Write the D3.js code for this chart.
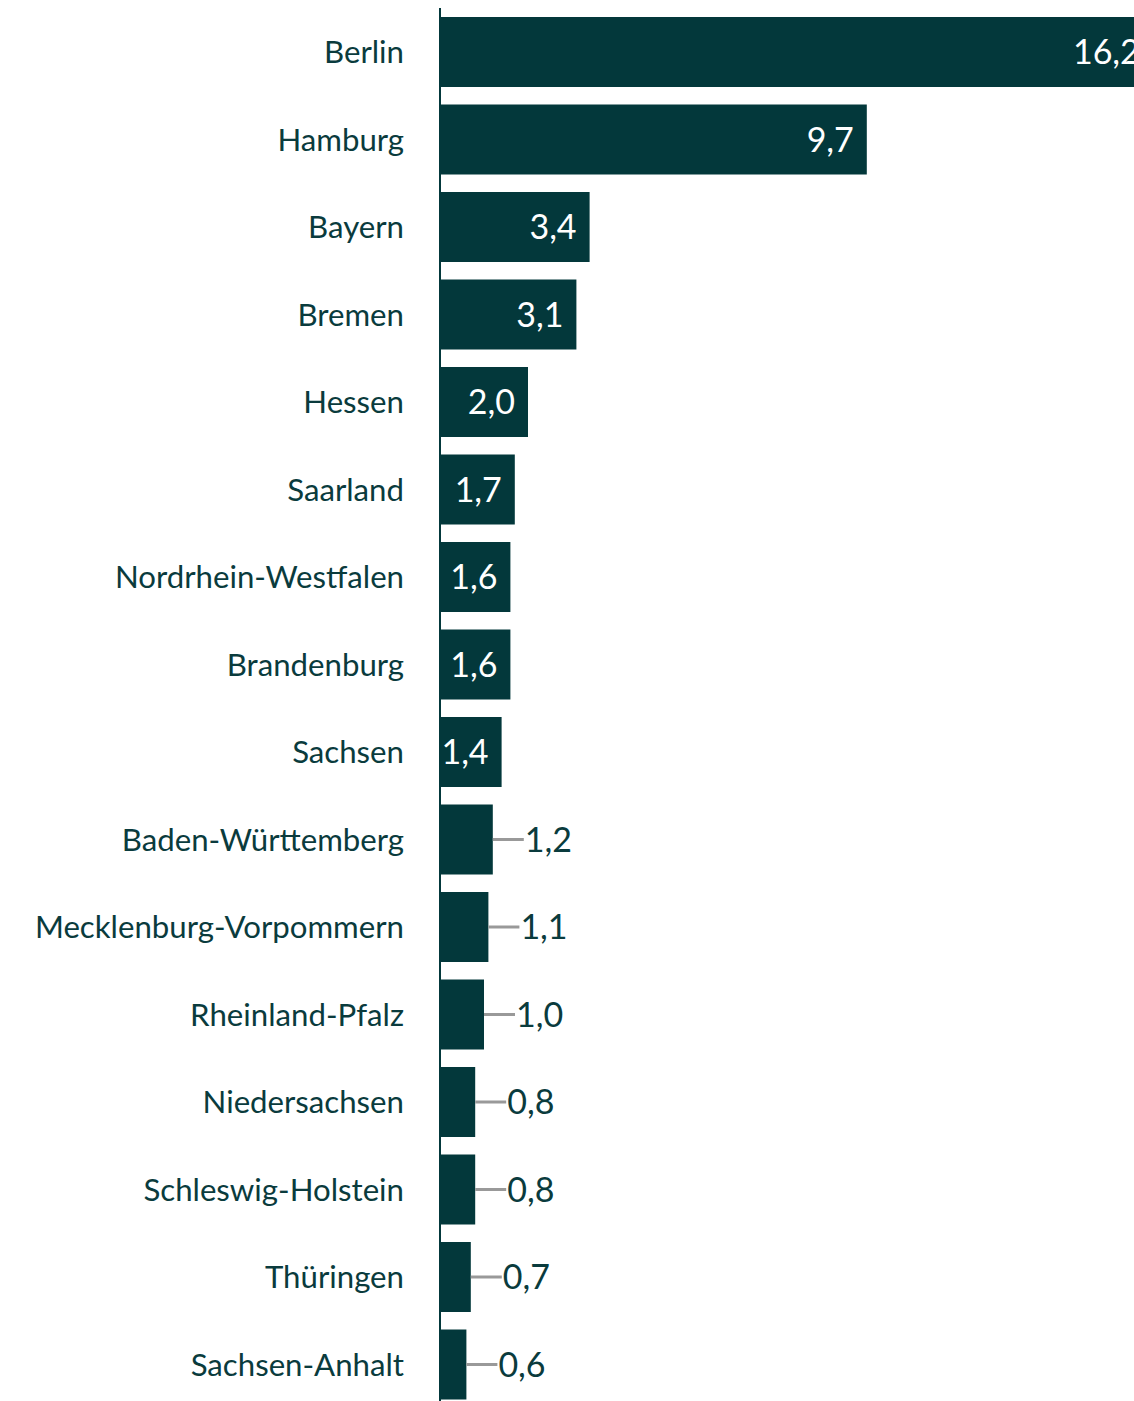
<!DOCTYPE html>
<html><head><meta charset="utf-8">
<script src="https://cdn.jsdelivr.net/npm/d3@7"></script>
<style>html,body{margin:0;padding:0;background:#fff;overflow:hidden}svg{display:block}</style>
</head><body>
<svg id="chart" width="1134" height="1401"></svg>
<script>
const categories = ["Berlin","Hamburg","Bayern","Bremen","Hessen","Saarland","Nordrhein-Westfalen","Brandenburg","Sachsen","Baden-Württemberg","Mecklenburg-Vorpommern","Rheinland-Pfalz","Niedersachsen","Schleswig-Holstein","Thüringen","Sachsen-Anhalt"];
const values = [16.2,9.7,3.4,3.1,2.0,1.7,1.6,1.6,1.4,1.2,1.1,1.0,0.8,0.8,0.7,0.6];
const labels = ["16,2","9,7","3,4","3,1","2,0","1,7","1,6","1,6","1,4","1,2","1,1","1,0","0,8","0,8","0,7","0,6"];

const data = categories.map((c,i)=>({cat:c, v:values[i], lab:labels[i]}));
const svg = d3.select("#chart");
const dark = "#03383b";
const font = "Lato, 'Open Sans', sans-serif";

const x = d3.scaleLinear().domain([0,16.2]).range([440, 440+16.2*44]);
const y = d3.scaleBand().domain(categories).range([8.25, 1408.25]).paddingInner(0.2).paddingOuter(0.1);

svg.selectAll("rect.bar").data(data).join("rect")
  .attr("class","bar")
  .attr("x", x(0)).attr("y", d=>y(d.cat))
  .attr("width", d=>x(d.v)-x(0)).attr("height", y.bandwidth())
  .attr("fill", dark);

svg.append("line").attr("x1",440).attr("x2",440).attr("y1",8).attr("y2",1401)
  .attr("stroke", dark).attr("stroke-width",2);

svg.selectAll("text.cat").data(data).join("text")
  .attr("class","cat")
  .attr("x", 404).attr("y", d=>y(d.cat)+y.bandwidth()/2)
  .attr("dy","0.36em").attr("text-anchor","end")
  .attr("font-family", font).attr("font-size", 31.2).attr("fill", "#0a3b3d")
  .text(d=>d.cat);

const inside = d=>d.v>=1.4;
svg.selectAll("text.val").data(data).join("text")
  .attr("class","val")
  .attr("x", d=> inside(d) ? x(d.v)-13 : x(d.v)+32)
  .attr("y", d=>y(d.cat)+y.bandwidth()/2)
  .attr("dy","0.36em")
  .attr("text-anchor", d=> inside(d) ? "end" : "start")
  .attr("font-family", font).attr("font-size", 34)
  .attr("fill", d=> inside(d) ? "#ffffff" : "#0a3b3d")
  .text(d=>d.lab);

svg.selectAll("line.lead").data(data.filter(d=>!inside(d))).join("line")
  .attr("class","lead")
  .attr("x1", d=>x(d.v)).attr("x2", d=>x(d.v)+31)
  .attr("y1", d=>y(d.cat)+y.bandwidth()/2).attr("y2", d=>y(d.cat)+y.bandwidth()/2)
  .attr("stroke","#999").attr("stroke-width",3);
</script>
</body></html>
